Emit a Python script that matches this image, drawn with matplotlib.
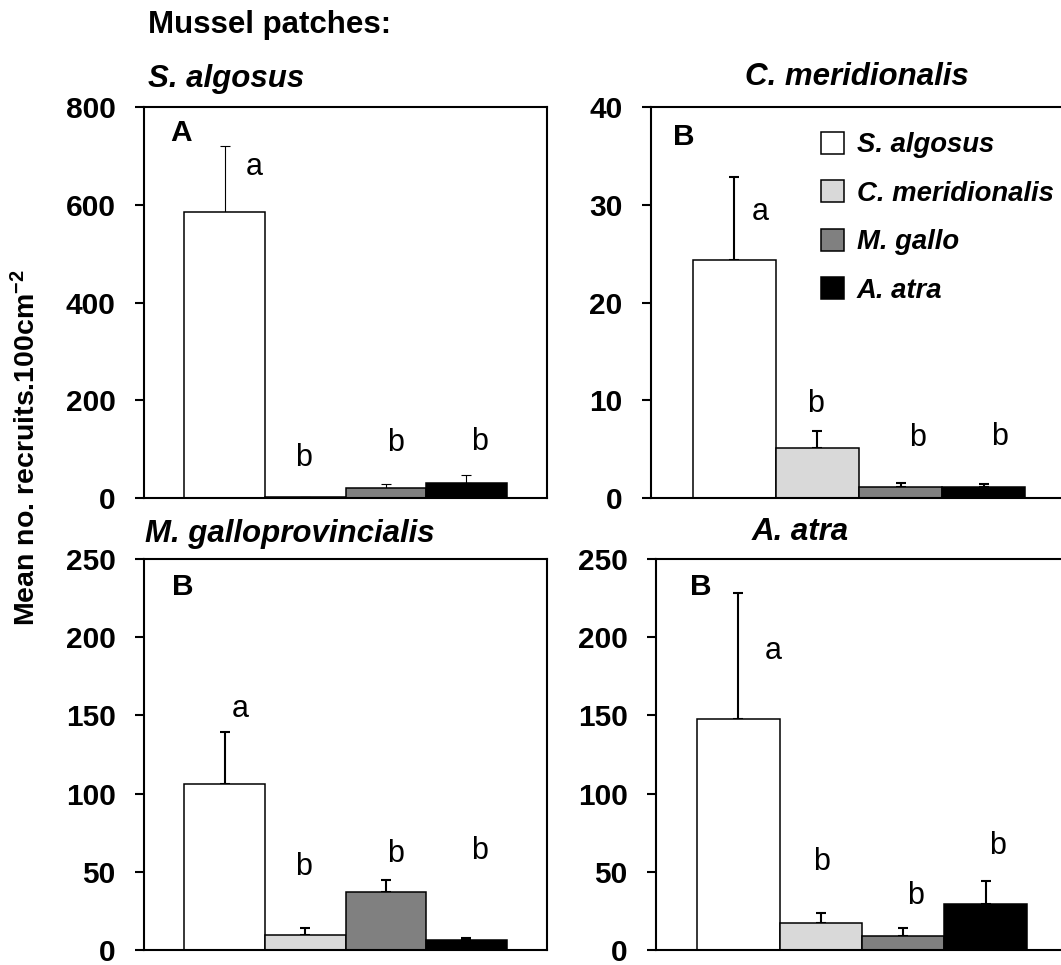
import matplotlib
matplotlib.use("Agg")
import matplotlib.pyplot as plt
from matplotlib.patches import Rectangle
import numpy as np

plt.rcParams['font.family'] = ['Liberation Sans', 'DejaVu Sans']
plt.rcParams['mathtext.fontset'] = 'custom'
plt.rcParams['mathtext.rm'] = 'Liberation Sans'
plt.rcParams['mathtext.bf'] = 'Liberation Sans:bold'
plt.rcParams['mathtext.it'] = 'Liberation Sans:italic'

# ---------------- data ----------------
species = ["S. algosus", "C. meridionalis", "M. gallo", "A. atra"]
colors = ["#ffffff", "#d9d9d9", "#808080", "#000000"]

panel_titles = ["S. algosus", "C. meridionalis", "M. galloprovincialis", "A. atra"]
panel_letters = ["A", "B", "B", "B"]

means_salg = [585, 1.5, 20, 31]
se_salg = [135, 0.5, 8, 16]
means_cmer = [24.35, 5.08, 1.16, 1.1]
se_cmer = [8.45, 1.77, 0.35, 0.35]
means_mgal = [106.1, 9.6, 36.9, 6.4]
se_mgal = [33.1, 4.3, 7.9, 1.1]
means_aatr = [147.5, 17.0, 9.0, 29.2]
se_aatr = [81.0, 6.5, 4.9, 14.9]

sig_salg = ["a", "b", "b", "b"]
sig_cmer = ["a", "b", "b", "b"]
sig_mgal = ["a", "b", "b", "b"]
sig_aatr = ["a", "b", "b", "b"]

yticks_salg = [0, 200, 400, 600, 800]
yticks_cmer = [0, 10, 20, 30, 40]
yticks_mgal = [0, 50, 100, 150, 200, 250]
yticks_aatr = [0, 50, 100, 150, 200, 250]

# ---------------- layout ----------------
W, H = 1061, 965
fig = plt.figure(figsize=(W / 100, H / 100), dpi=100)

def px_axes(l, r, t, b):
    return fig.add_axes([l / W, 1 - b / H, (r - l) / W, (b - t) / H])

axes = [px_axes(144, 547, 107, 498),
        px_axes(651, 1067, 107, 498),
        px_axes(144, 547, 559, 950),
        px_axes(656, 1068, 559, 950)]

means_all = [means_salg, means_cmer, means_mgal, means_aatr]
se_all = [se_salg, se_cmer, se_mgal, se_aatr]
sig_all = [sig_salg, sig_cmer, sig_mgal, sig_aatr]
yt_all = [yticks_salg, yticks_cmer, yticks_mgal, yticks_aatr]

# placement of the significance letters (x offset from bar centre, baseline y)
sig_dx = [[0.37, -0.02, 0.12, 0.16],
          [0.31, -0.02, 0.20, 0.19],
          [0.19, -0.02, 0.12, 0.16],
          [0.42, 0.01, 0.15, 0.15]]
sig_y = [[660, 66, 96, 98],
         [28.4, 8.83, 5.3, 5.4],
         [149.2, 48, 56.5, 58],
         [186, 51, 29.4, 61.2]]
letter_pos = [(0.065, 0.914), (0.053, 0.903), (0.069, 0.908), (0.083, 0.908)]
err_lw = [0.8, 1.5, 1.5, 1.5]

x = np.arange(len(species))
for k, ax in enumerate(axes):
    ax.bar(x, means_all[k], width=1.0, color=colors, edgecolor="black",
           linewidth=1.1, zorder=2)
    ax.errorbar(x, means_all[k], yerr=[np.zeros(4), se_all[k]], fmt="none",
                ecolor="black", elinewidth=err_lw[k], capsize=3.8,
                capthick=err_lw[k], zorder=1)
    ax.set_xlim(-1, 4)
    yt = yt_all[k]
    ax.set_ylim(yt[0], yt[-1])
    ax.set_yticks(yt)
    ax.set_yticklabels([str(v) for v in yt], fontsize=21.5, fontweight="bold")
    ax.set_xticks([])
    ax.tick_params(axis="y", direction="out", length=6.5, width=1.5, pad=14)
    for s in ax.spines.values():
        s.set_linewidth(1.5)
    if k in (1, 3):
        ax.spines["right"].set_visible(False)
    for i in range(4):
        ax.text(x[i] + sig_dx[k][i], sig_y[k][i], sig_all[k][i],
                fontsize=22, ha="center", va="baseline")
    ax.text(letter_pos[k][0], letter_pos[k][1], panel_letters[k],
            transform=ax.transAxes, fontsize=21.5, fontweight="bold",
            ha="left", va="baseline")

# titles
def ftext(xp, yp, s, **kw):
    fig.text(xp / W, 1 - yp / H, s, va="baseline", ha="left", **kw)

ftext(148, 33, "Mussel patches:", fontsize=22.5, fontweight="bold")
title_pos = [(148, 87), (745, 85), (145, 542), (752, 540)]
for (xp, yp), t in zip(title_pos, panel_titles):
    ftext(xp, yp, t, fontsize=22.5, fontweight="bold", style="italic")

fig.text(27 / W, 1 - 448 / H, r'Mean no. recruits.100cm$^{\mathbf{-2}}$',
         rotation=90, fontsize=20.5, fontweight="bold", ha="center", va="center")

# legend
handles = [Rectangle((0, 0), 1, 1, facecolor=c, edgecolor="black", linewidth=1.1)
           for c in colors]
leg = axes[1].legend(handles, species, loc="upper left",
                     bbox_to_anchor=(821 / W, 1 - 132 / H),
                     bbox_transform=fig.transFigure, frameon=False,
                     handlelength=0.85, handleheight=0.85, handletextpad=0.45,
                     labelspacing=0.8, borderpad=0, borderaxespad=0,
                     prop={"family": "Liberation Sans", "weight": "bold",
                           "style": "italic", "size": 19.8})

fig.savefig("out.png", dpi=100)
